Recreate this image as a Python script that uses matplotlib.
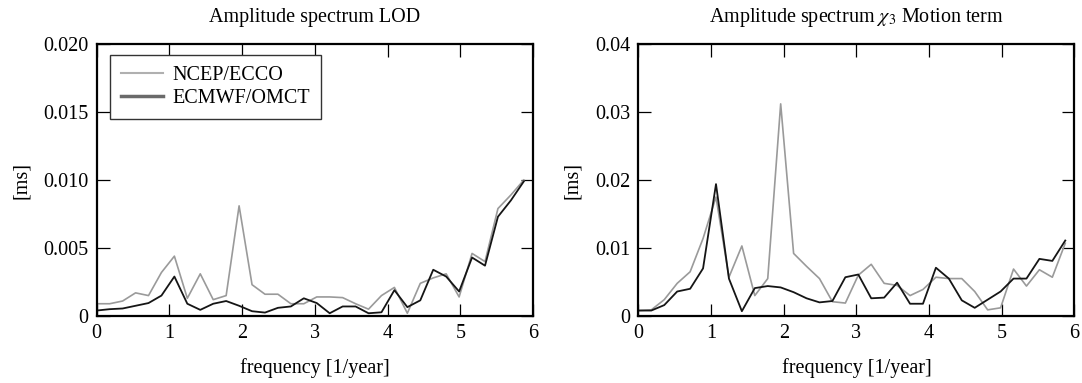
import matplotlib
matplotlib.use("Agg")
import matplotlib.pyplot as plt
from matplotlib.ticker import FixedLocator, FixedFormatter
from matplotlib.lines import Line2D

plt.rcParams['font.family'] = ['Liberation Serif', 'DejaVu Serif']
plt.rcParams['mathtext.fontset'] = 'stix'

freq = [0.000, 0.178, 0.356, 0.534, 0.712, 0.890, 1.068, 1.246, 1.424, 1.602,
        1.780, 1.958, 2.136, 2.314, 2.492, 2.670, 2.848, 3.026, 3.204, 3.382,
        3.560, 3.738, 3.916, 4.094, 4.272, 4.450, 4.628, 4.806, 4.984, 5.162,
        5.340, 5.518, 5.696, 5.874]

lod_ncep = [0.0009, 0.0009, 0.0011, 0.0017, 0.0015, 0.0032, 0.0044, 0.0013, 0.0031, 0.0012,
            0.0015, 0.0081, 0.0023, 0.0016, 0.0016, 0.0009, 0.0009, 0.0014, 0.0014, 0.00135,
            0.0009, 0.0005, 0.0015, 0.0021, 0.0002, 0.0024, 0.0028, 0.0031, 0.0014, 0.0046,
            0.0040, 0.0079, 0.0089, 0.0100]
lod_ecmwf = [0.0004, 0.0005, 0.00055, 0.00075, 0.00095, 0.0015, 0.0029, 0.0009, 0.00045, 0.0009,
             0.0011, 0.00075, 0.00035, 0.00025, 0.0006, 0.0007, 0.0013, 0.00095, 0.0002, 0.0007,
             0.0007, 0.0002, 0.00027, 0.0019, 0.00065, 0.00115, 0.0034, 0.0029, 0.0018, 0.0043,
             0.0037, 0.0073, 0.0085, 0.0099]

chi_ncep = [0.0008, 0.0009, 0.0024, 0.0048, 0.0065, 0.0114, 0.0175, 0.0057, 0.0103, 0.0030,
            0.0055, 0.0312, 0.0092, 0.0073, 0.0055, 0.0021, 0.0019, 0.0060, 0.0076, 0.0048,
            0.0045, 0.0030, 0.0039, 0.0057, 0.0055, 0.0055, 0.0036, 0.0009, 0.0012, 0.0069,
            0.0044, 0.0068, 0.0057, 0.0107]
chi_ecmwf = [0.0008, 0.0008, 0.0016, 0.0036, 0.0040, 0.0070, 0.0194, 0.0055, 0.0007, 0.0041,
             0.0044, 0.0042, 0.0035, 0.0026, 0.0020, 0.0022, 0.0057, 0.0061, 0.0026, 0.0027,
             0.0049, 0.0018, 0.0018, 0.0071, 0.0055, 0.0023, 0.0012, 0.0024, 0.0036, 0.0055,
             0.0055, 0.0084, 0.0081, 0.0111]

xticks = [0, 1, 2, 3, 4, 5, 6]
lod_yticks = [0, 0.005, 0.010, 0.015, 0.020]
lod_ylabels = ['0', '0.005', '0.010', '0.015', '0.020']
chi_yticks = [0, 0.01, 0.02, 0.03, 0.04]
chi_ylabels = ['0', '0.01', '0.02', '0.03', '0.04']

titles = ['Amplitude spectrum LOD', r'Amplitude spectrum $\chi_3$ Motion term']
labels = ['NCEP/ECCO', 'ECMWF/OMCT']

FS = 14.5
fig = plt.figure(figsize=(10.82, 3.83), dpi=100)
ax1 = fig.add_axes([0.0894, 0.175, 0.4032, 0.710])
ax2 = fig.add_axes([0.590, 0.175, 0.403, 0.710])

gray = '#9a9a9a'
dark = '#151515'

panels = [(ax1, lod_ncep, lod_ecmwf, lod_yticks, lod_ylabels, 0.020),
          (ax2, chi_ncep, chi_ecmwf, chi_yticks, chi_ylabels, 0.04)]
for i, (ax, a, b, yt, yl, ymax) in enumerate(panels):
    ax.plot(freq, a, color=gray, lw=1.2, label=labels[0])
    ax.plot(freq, b, color=dark, lw=1.3, label=labels[1])
    ax.set_xlim(0, 6)
    ax.set_ylim(0, ymax)
    ax.xaxis.set_major_locator(FixedLocator(xticks))
    ax.set_xticklabels([str(t) for t in xticks])
    ax.yaxis.set_major_locator(FixedLocator(yt))
    ax.yaxis.set_major_formatter(FixedFormatter(yl))
    ax.tick_params(direction='in', length=9, width=0.9, top=True, right=True,
                   labelsize=FS, pad=6)
    for s in ax.spines.values():
        s.set_linewidth(1.6)
    ax.set_title(titles[i], fontsize=FS, pad=16)
    ax.set_xlabel('frequency [1/year]', fontsize=FS, labelpad=11)
    ax.set_ylabel('[ms]', fontsize=FS, labelpad=9)

handles = [Line2D([], [], color='#b0b0b0', lw=1.5), Line2D([], [], color='#6a6a6a', lw=2.5)]
leg = ax1.legend(handles, labels, loc='upper left', fontsize=FS, frameon=True, fancybox=False,
                 edgecolor='#333333', framealpha=1, borderpad=0.55, handlelength=2.1,
                 handletextpad=0.45, labelspacing=0.2, borderaxespad=0,
                 bbox_to_anchor=(0.03, 0.96))
leg.get_frame().set_linewidth(1.0)

fig.savefig('out.png', dpi=100)
